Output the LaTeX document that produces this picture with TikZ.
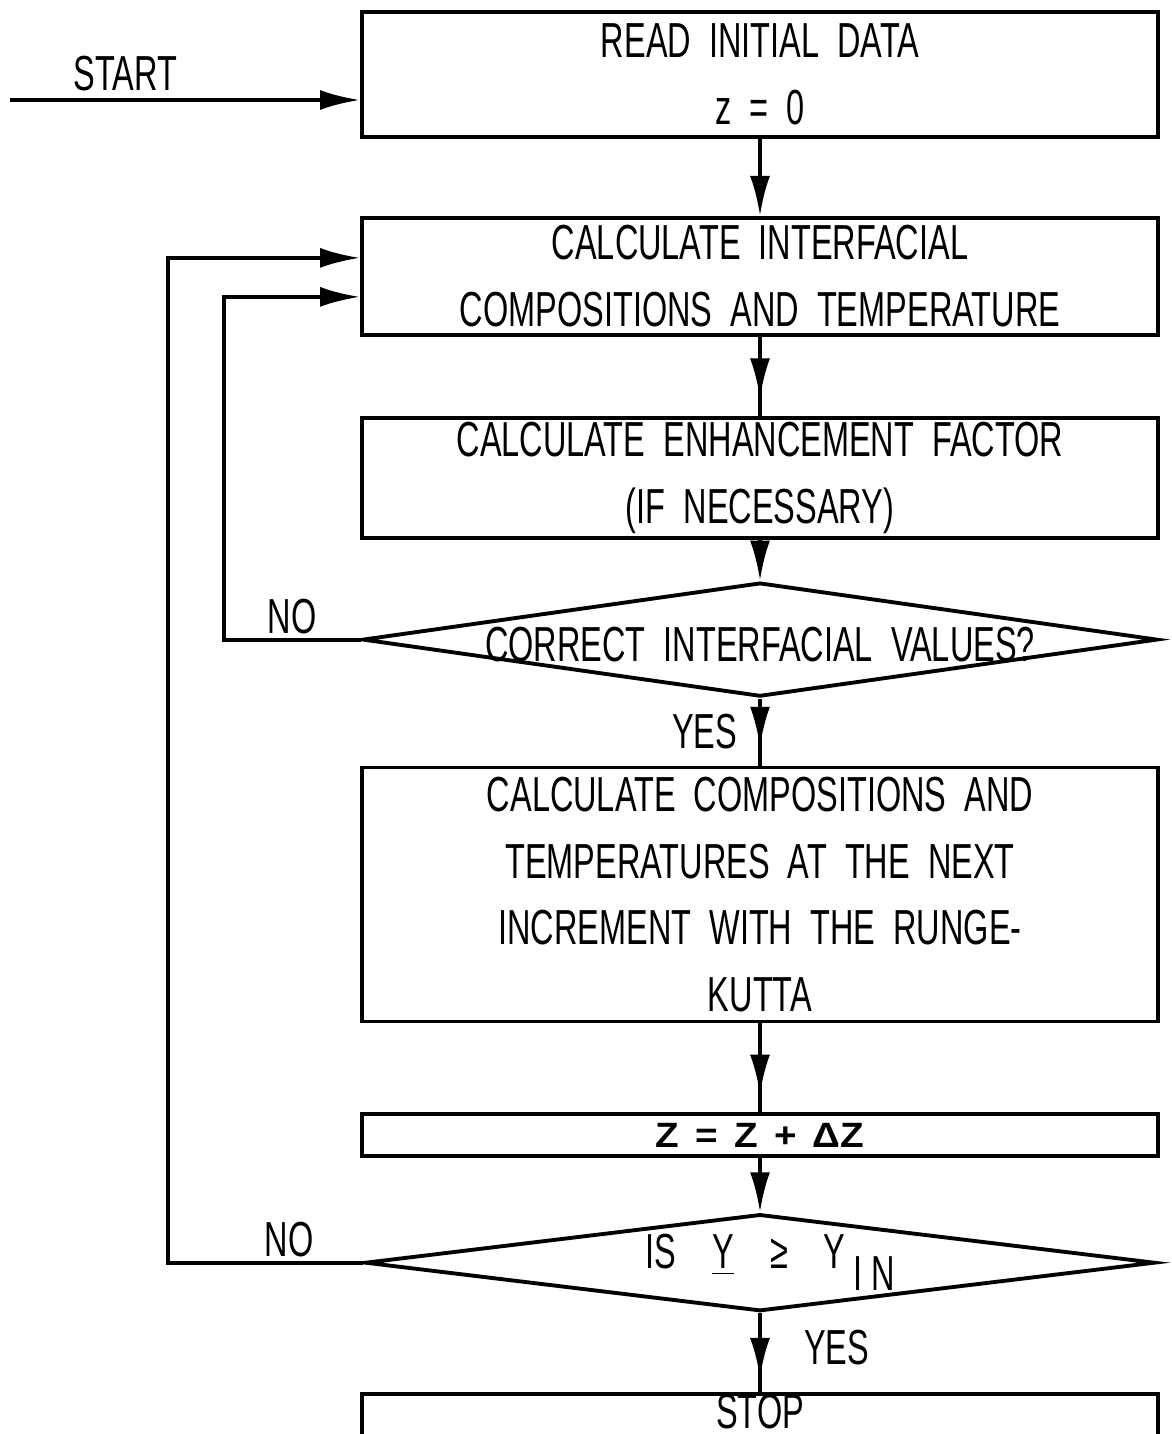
\documentclass[tikz,border=0pt]{standalone}
\usepackage{fontspec}
\setmainfont[FakeStretch=0.66,WordSpace=2.0]{Liberation Sans}
\newfontfamily\incrfont[FakeStretch=1.1,WordSpace=1.5]{Liberation Sans}
\usetikzlibrary{positioning,shapes.geometric,arrows.meta,decorations.markings}

\begin{document}
\begin{tikzpicture}[
  node distance=0.8cm,
  box/.style={draw, line width=1.1pt, minimum width=7.96cm, inner sep=0pt,
    align=center, font=\fontsize{14}{19}\selectfont},
  decision/.style={draw, diamond, line width=1.1pt, inner sep=0pt, minimum width=7.95cm},
  lbl/.style={font=\fontsize{14}{19}\selectfont, inner sep=2pt},
  arr/.style={line width=1.1pt, -{Latex[length=4mm,width=2mm]}},
  midarr/.style={line width=1.1pt, postaction={decorate},
    decoration={markings, mark=at position #1 with {\arrow{Latex[length=4mm,width=2mm]}}}}
  ]
  \useasboundingbox (0,0) rectangle (11.72,-14.34);

  \node[box, minimum height=1.25cm] (read) at (7.60,-0.745) {READ INITIAL DATA\\ z = 0};
  \node[box, minimum height=1.17cm, below=0.77cm of read] (calcif)
    {CALCULATE INTERFACIAL\\ COMPOSITIONS AND TEMPERATURE};
  \node[box, minimum height=1.20cm, below=0.79cm of calcif] (enh)
    {CALCULATE ENHANCEMENT FACTOR\\ (IF NECESSARY)};
  \node[decision, minimum height=1.14cm, below=0.41cm of enh,
    label={[lbl, yshift=-0.05cm]center:CORRECT INTERFACIAL VALUES?}] (check) {};
  \node[box, minimum height=2.54cm, below=0.67cm of check] (comp)
    {CALCULATE COMPOSITIONS AND\\ TEMPERATURES AT THE NEXT\\
     INCREMENT WITH THE RUNGE-\\ KUTTA};
  \node[box, minimum height=0.42cm, below=0.89cm of comp,
    font=\incrfont\fontsize{10}{12}\selectfont\bfseries] (incr) {Z = Z + ΔZ};
  \node[decision, minimum height=0.97cm, minimum width=7.90cm, below=0.54cm of incr,
    label={[lbl, xshift=0.1cm]center:IS\ \ \underline{Y}\ \ ≥\ \ Y\raisebox{-0.45em}{\,I\,N}}] (isy) {};
  \node[box, minimum height=0.44cm, text height=0.34cm, text depth=0.14cm,
    below=0.79cm of isy] (stop) {STOP};

  % entry
  \coordinate (in) at (0.10,-1.00);
  \draw[arr] (in) -- (in -| read.west) node[lbl, above, pos=0.33] {START};

  % main flow
  \draw[arr] (read) -- (calcif);
  \draw[midarr=0.78] (calcif) -- (enh);
  \draw[arr] (enh) -- (check);
  \draw[midarr=0.72] (check) -- (comp) node[lbl, left, pos=0.5, inner sep=6pt] {YES};
  \draw[midarr=0.8] (comp) -- (incr);
  \draw[arr] (incr) -- (isy);
  \draw[midarr=0.82] (isy) -- (stop) node[lbl, right, pos=0.43, inner sep=12pt] {YES};

  % loops back
  \draw[arr] (check.west) -- ++(-1.37,0) node[lbl, above, pos=0.5, inner sep=1pt] {NO}
    |- ([yshift=-0.205cm]calcif.west);
  \draw[arr] (isy.west) -- ++(-1.95,0) node[lbl, above, pos=0.38, inner sep=1pt] {NO}
    |- ([yshift=0.185cm]calcif.west);
\end{tikzpicture}
\end{document}
